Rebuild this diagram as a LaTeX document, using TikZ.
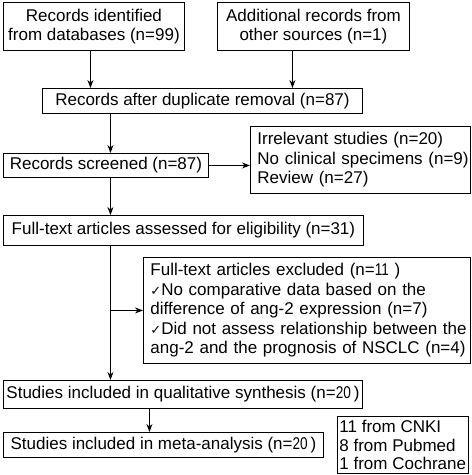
\documentclass[tikz,border=0pt]{standalone}
\usepackage{fontspec}
\setmainfont{Liberation Sans}
\newfontfamily\chkfont{DejaVu Sans}
\newfontfamily\narrowfont[FakeStretch=0.8]{Liberation Sans}
\usetikzlibrary{arrows.meta}
\newcommand{\ck}{{\chkfont\fontsize{13}{13}\selectfont ✓}}
\begin{document}
\begin{tikzpicture}[x=1pt,y=-1pt,
  box/.style={draw, line width=0.9pt, inner sep=0pt, anchor=north west,
    font=\fontsize{17}{19.5}\selectfont},
  lbox/.style={box, align=left, inner xsep=7pt},
  arr/.style={-{Stealth[length=8pt,width=6pt]}, line width=0.9pt}]
\useasboundingbox (0,0) rectangle (472,475);
\node[box, align=center, minimum width=181pt, minimum height=48pt] (b1) at (3,2)
  {Records identified\\from databases (n=99)};
\node[box, align=center, minimum width=192pt, minimum height=48pt] (b2) at (217,2)
  {Additional records from\\other sources (n=1)};
\node[box, minimum width=320pt, minimum height=25pt] (b3) at (42,88)
  {Records after duplicate removal (n=87)};
\node[box, minimum width=205pt, minimum height=24pt] (b4) at (3,153)
  {Records screened (n=87)};
\node[lbox, text width=206pt, minimum height=67pt] (b5) at (250,126)
  {\mbox{Irrelevant studies (n=20)}\\\mbox{No clinical specimens (n=9)}\\\mbox{Review (n=27)}};
\node[box, minimum width=360pt, minimum height=30pt] (b6) at (3,215)
  {Full-text articles assessed for eligibility (n=31)};
\node[lbox, text width=313pt, minimum height=106pt] (b7) at (143,257)
  {\mbox{Full-text articles excluded (n={\narrowfont 11}\,\,)}\\
   \mbox{\ck No comparative data based on the}\\
   \mbox{difference of ang-2 expression (n=7)}\\
   \mbox{\ck Did not assess relationship between the}\\
   \mbox{ang-2 and the prognosis of NSCLC (n=4)}};
\node[box, minimum width=359pt, minimum height=28pt] (b8) at (3,380)
  {Studies included in qualitative synthesis (n={\narrowfont 20}\,)};
\node[box, minimum width=320pt, minimum height=25pt] (b9) at (3,432)
  {Studies included in meta-analysis (n={\narrowfont 20}\,)};
\node[box, inner sep=0pt, anchor=north west,
  font=\fontsize{17}{18.5}\selectfont] (b10) at (337,416)
  {\begin{minipage}[c][57pt][c]{131pt}\hspace*{2pt}11 from CNKI\\
   \hspace*{2pt}8 from Pubmed\\\hspace*{2pt}1 from Cochrane\end{minipage}};
\draw[arr] ([xshift=-3.5pt]b1.south) -- ([xshift=-3.5pt]b1.south |- b3.north);
\draw[arr] ([xshift=-21pt]b2.south) -- ([xshift=-21pt]b2.south |- b3.north);
\draw[arr] ([xshift=4.5pt]b4.north |- b3.south) -- ([xshift=4.5pt]b4.north);
\draw[arr] (b4.east) -- (b4.east -| b5.west);
\draw[arr] ([xshift=4.5pt]b4.south) -- ([xshift=4.5pt]b4.south |- b6.north);
\draw[arr] ([xshift=4.5pt]b4.south |- b6.south) -- ([xshift=4.5pt]b4.south |- b8.north);
\draw[arr] ([xshift=4.5pt]b4.south |- b7.west) -- (b7.west);
\draw[arr] ([xshift=-14pt]b9.north |- b8.south) -- ([xshift=-14pt]b9.north);
\end{tikzpicture}
\end{document}
